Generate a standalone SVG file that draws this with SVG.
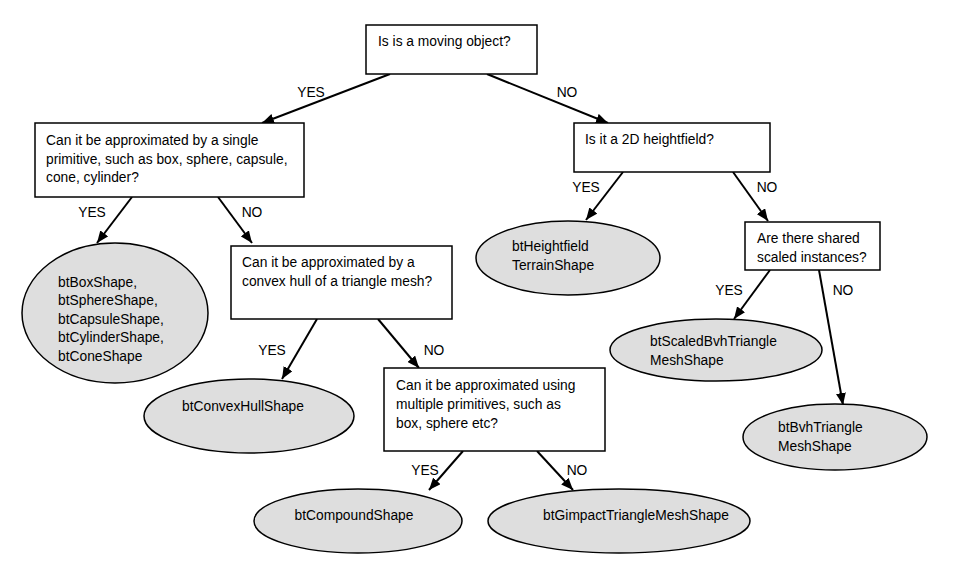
<svg xmlns="http://www.w3.org/2000/svg" width="980" height="577" viewBox="0 0 980 577">
<defs>
<marker id="ah" viewBox="0 0 12 10" refX="12" refY="5" markerWidth="12" markerHeight="10" markerUnits="userSpaceOnUse" orient="auto">
<path d="M0,0 L12,5 L0,10 Z" fill="#000"/>
</marker>
<style>
.box{fill:#fff;stroke:#000;stroke-width:1.5}
.ell{fill:#dedede;stroke:#000;stroke-width:1.5}
text{font-family:"Liberation Sans",Arial,sans-serif;font-size:13.8px;fill:#000}
.c{text-anchor:middle}
.edge{stroke:#000;stroke-width:2;fill:none;marker-end:url(#ah)}
</style>
</defs>
<rect width="980" height="577" fill="#fff"/>
<g id="connectors">
<line class="edge" x1="390" y1="74" x2="262" y2="123"/>
<line class="edge" x1="487" y1="74" x2="608" y2="123"/>
<line class="edge" x1="132" y1="197" x2="97" y2="243"/>
<line class="edge" x1="218" y1="197" x2="252" y2="243"/>
<line class="edge" x1="623" y1="172" x2="586" y2="220"/>
<line class="edge" x1="733" y1="172" x2="768" y2="221"/>
<line class="edge" x1="317" y1="319" x2="282" y2="379"/>
<line class="edge" x1="378" y1="319" x2="419" y2="368"/>
<line class="edge" x1="463" y1="451" x2="429" y2="490"/>
<line class="edge" x1="537" y1="451" x2="573" y2="490"/>
<line class="edge" x1="770" y1="270" x2="734" y2="319"/>
<line class="edge" x1="819" y1="270" x2="843" y2="405"/>
<text class="c" x="311" y="97">YES</text>
<text class="c" x="567" y="97">NO</text>
<text class="c" x="92" y="217">YES</text>
<text class="c" x="252" y="217">NO</text>
<text class="c" x="586" y="192">YES</text>
<text class="c" x="767" y="192">NO</text>
<text class="c" x="272" y="355">YES</text>
<text class="c" x="434" y="355">NO</text>
<text class="c" x="425" y="475">YES</text>
<text class="c" x="577" y="475">NO</text>
<text class="c" x="729" y="295">YES</text>
<text class="c" x="843" y="295">NO</text>
</g>
<g id="q-moving">
<rect class="box" x="366" y="25" width="171" height="49"/>
<text x="378" y="46">Is is a moving object?</text>
</g>
<g id="q-single">
<rect class="box" x="35" y="123" width="269" height="74"/>
<text x="46" y="145">Can it be approximated by a single</text>
<text x="46" y="164">primitive, such as box, sphere, capsule,</text>
<text x="46" y="182">cone, cylinder?</text>
</g>
<g id="q-heightfield">
<rect class="box" x="574" y="123" width="196" height="49"/>
<text x="585" y="144">Is it a 2D heightfield?</text>
</g>
<g id="r-primitives">
<ellipse class="ell" cx="115" cy="313" rx="93" ry="70"/>
<text x="58" y="287">btBoxShape,</text>
<text x="58" y="305">btSphereShape,</text>
<text x="58" y="324">btCapsuleShape,</text>
<text x="58" y="342">btCylinderShape,</text>
<text x="58" y="361">btConeShape</text>
</g>
<g id="q-convex">
<rect class="box" x="231" y="246" width="221" height="73"/>
<text x="242" y="267">Can it be approximated by a</text>
<text x="242" y="286">convex hull of a triangle mesh?</text>
</g>
<g id="r-heightfield">
<ellipse class="ell" cx="568" cy="258" rx="92" ry="37"/>
<text x="512" y="251">btHeightfield</text>
<text x="512" y="270">TerrainShape</text>
</g>
<g id="q-shared">
<rect class="box" x="745" y="222" width="135" height="48"/>
<text x="757" y="243">Are there shared</text>
<text x="757" y="262">scaled instances?</text>
</g>
<g id="r-convexhull">
<ellipse class="ell" cx="249" cy="416" rx="105" ry="37"/>
<text class="c" x="243" y="411">btConvexHullShape</text>
</g>
<g id="q-multiple">
<rect class="box" x="384" y="368" width="221" height="83"/>
<text x="396" y="390">Can it be approximated using</text>
<text x="396" y="409">multiple primitives, such as</text>
<text x="396" y="428">box, sphere etc?</text>
</g>
<g id="r-scaledbvh">
<ellipse class="ell" cx="716" cy="350" rx="106" ry="31"/>
<text x="650" y="346">btScaledBvhTriangle</text>
<text x="650" y="365">MeshShape</text>
</g>
<g id="r-bvh">
<ellipse class="ell" cx="835" cy="437" rx="92" ry="33"/>
<text x="778" y="432">btBvhTriangle</text>
<text x="778" y="451">MeshShape</text>
</g>
<g id="r-compound">
<ellipse class="ell" cx="358" cy="521" rx="104" ry="32"/>
<text class="c" x="354" y="520">btCompoundShape</text>
</g>
<g id="r-gimpact">
<ellipse class="ell" cx="619" cy="521" rx="131" ry="32"/>
<text class="c" x="636" y="520">btGimpactTriangleMeshShape</text>
</g>
</svg>
